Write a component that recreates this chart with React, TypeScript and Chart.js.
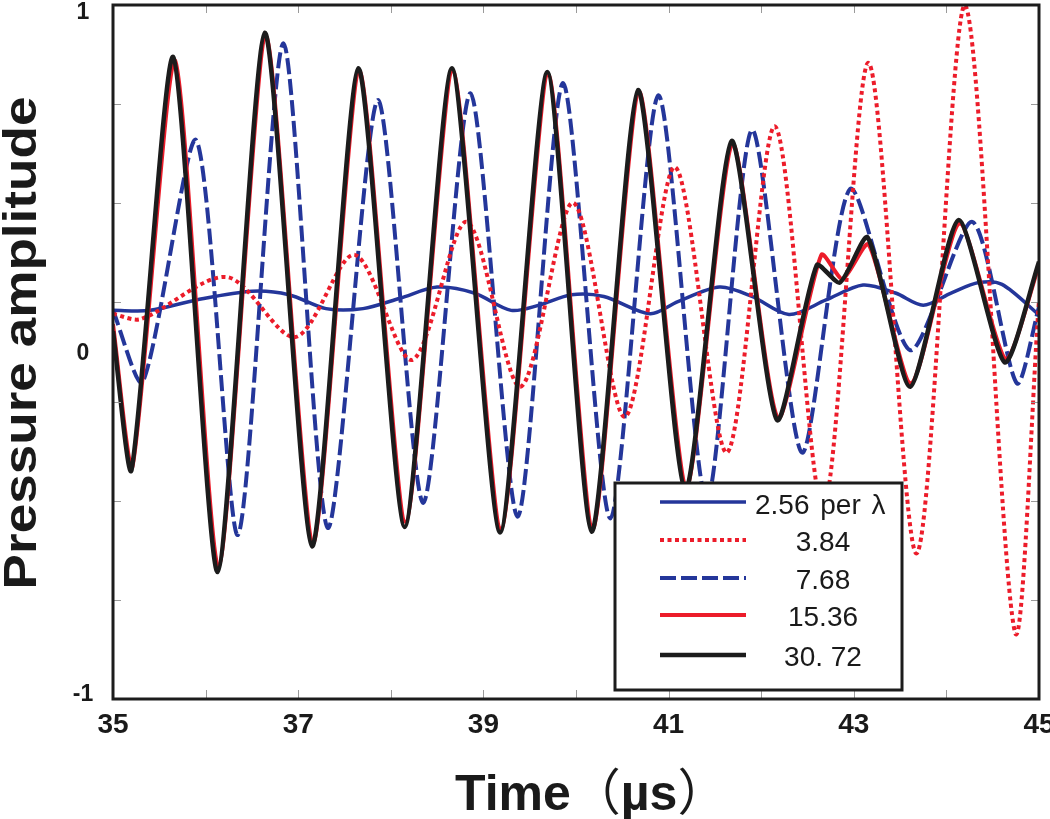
import React, { useEffect, useRef } from 'react';
import { Chart, registerables } from 'chart.js';

Chart.register(...registerables);

// ---------- data ----------
const seriesNames = ['2.56 per λ', '3.84', '7.68', '15.36', '30. 72'];

const xTickValues = [35, 36, 37, 38, 39, 40, 41, 42, 43, 44, 45];
const xTickLabels = ['35', '', '37', '', '39', '', '41', '', '43', '', '45'];
const yTickValues = [1, 0, -1];
const yTickLabels = ['1', '0', '-1'];
const yMinorTicks = [0.714, 0.429, 0.143, -0.143, -0.429, -0.714];

const t256 = [35.0, 35.4, 35.9, 36.5, 36.9, 37.3, 37.7, 38.1, 38.5, 38.9, 39.3, 39.6, 39.95, 40.3, 40.8, 41.1, 41.55, 41.9, 42.3, 42.7, 43.1, 43.45, 43.75, 44.05, 44.35, 44.6, 45.0];
const p256 = [0.12, 0.12, 0.15, 0.175, 0.165, 0.125, 0.125, 0.155, 0.187, 0.17, 0.12, 0.135, 0.165, 0.16, 0.11, 0.145, 0.187, 0.16, 0.108, 0.15, 0.193, 0.17, 0.135, 0.17, 0.2, 0.195, 0.107];

const t384 = [35.0, 35.3, 36.23, 36.97, 37.61, 38.23, 38.82, 39.4, 39.97, 40.53, 41.07, 41.63, 42.15, 42.67, 43.16, 43.68, 44.2, 44.74, 45.0];
const p384 = [0.11, 0.095, 0.216, 0.043, 0.28, -0.023, 0.375, -0.1, 0.43, -0.187, 0.533, -0.29, 0.65, -0.45, 0.833, -0.58, 1.0, -0.807, 0.15];

const t768 = [35.0, 35.32, 35.9, 36.35, 36.84, 37.32, 37.86, 38.35, 38.86, 39.37, 39.86, 40.37, 40.89, 41.41, 41.9, 42.44, 42.96, 43.61, 44.28, 44.76, 45.0];
const p768 = [0.12, -0.087, 0.61, -0.527, 0.89, -0.507, 0.726, -0.435, 0.746, -0.475, 0.775, -0.48, 0.74, -0.43, 0.64, -0.29, 0.47, 0.005, 0.375, -0.09, 0.13];

const t1536 = [35.0, 35.21, 35.67, 36.14, 36.65, 37.16, 37.66, 38.16, 38.67, 39.19, 39.7, 40.18, 40.68, 41.19, 41.69, 42.18, 42.65, 42.88, 43.16, 43.62, 44.14, 44.64, 45.0];
const p1536 = [0.08, -0.33, 0.84, -0.62, 0.91, -0.55, 0.81, -0.49, 0.81, -0.51, 0.8, -0.51, 0.75, -0.39, 0.6, -0.19, 0.28, 0.21, 0.31, -0.09, 0.37, -0.02, 0.25];

const t3072 = [35.0, 35.2, 35.65, 36.13, 36.64, 37.15, 37.65, 38.15, 38.66, 39.18, 39.69, 40.17, 40.67, 41.18, 41.68, 42.17, 42.6, 42.85, 43.15, 43.61, 44.13, 44.63, 45.0];
const p3072 = [0.06, -0.34, 0.85, -0.634, 0.92, -0.56, 0.818, -0.504, 0.818, -0.52, 0.807, -0.518, 0.755, -0.4, 0.608, -0.196, 0.25, 0.2, 0.33, -0.1, 0.38, -0.03, 0.26];

// ---------- styles ----------
const BLUE = '#24369a';
const RED = '#ec1c2a';
const BLACK = '#1c1c1c';
const TEXT = '#1a1a1a';
const FONT = '"Liberation Sans", Arial, sans-serif';

const styles = [
  { color: BLUE, width: 3.5, dash: [] as number[], tension: 0.3 },
  { color: RED, width: 4, dash: [4, 3.5], tension: 0.3 },
  { color: BLUE, width: 4, dash: [16, 5], tension: 0.25 },
  { color: RED, width: 4, dash: [] as number[], tension: 0.22 },
  { color: BLACK, width: 4.5, dash: [] as number[], tension: 0.22 },
];
const drawOrder = [4, 2, 3, 1, 0];

const toPts = (t: number[], p: number[]) => t.map((x, i) => ({ x, y: p[i] }));

const framePlugin = {
  id: 'frameAndLegend',
  afterDatasetsDraw(chart: any) {
    const { ctx, chartArea } = chart;
    const { left, right, top, bottom } = chartArea;
    const xs = chart.scales.x;
    const ys = chart.scales.y;
    ctx.save();
    // inward tick marks
    ctx.strokeStyle = '#9a9a9a';
    ctx.lineWidth = 1;
    ctx.setLineDash([]);
    xTickValues.forEach((v) => {
      const px = Math.round(xs.getPixelForValue(v)) + 0.5;
      ctx.beginPath();
      ctx.moveTo(px, bottom);
      ctx.lineTo(px, bottom - 9);
      ctx.moveTo(px, top);
      ctx.lineTo(px, top + 8);
      ctx.stroke();
    });
    yMinorTicks.forEach((v) => {
      const py = Math.round(ys.getPixelForValue(v)) + 0.5;
      ctx.beginPath();
      ctx.moveTo(left, py);
      ctx.lineTo(left + 8, py);
      ctx.moveTo(right, py);
      ctx.lineTo(right - 8, py);
      ctx.stroke();
    });
    // frame
    ctx.strokeStyle = BLACK;
    ctx.lineWidth = 3;
    ctx.strokeRect(left, top, right - left, bottom - top);

    // y tick labels
    ctx.fillStyle = TEXT;
    ctx.font = `bold 23px ${FONT}`;
    ctx.textAlign = 'center';
    ctx.textBaseline = 'middle';
    yTickValues.forEach((v, i) => {
      let py = ys.getPixelForValue(v);
      py = Math.max(top + 8, Math.min(bottom - 4, py + 2));
      ctx.fillText(yTickLabels[i], left - 30, py);
    });

    // legend
    const lx0 = 615, ly0 = 483, lx1 = 902, ly1 = 690;
    ctx.fillStyle = '#ffffff';
    ctx.fillRect(lx0, ly0, lx1 - lx0, ly1 - ly0);
    ctx.strokeStyle = BLACK;
    ctx.lineWidth = 3;
    ctx.strokeRect(lx0, ly0, lx1 - lx0, ly1 - ly0);
    const rowsY = [502, 540, 578, 615, 655];
    seriesNames.forEach((name, i) => {
      const st = styles[i];
      ctx.strokeStyle = st.color;
      ctx.lineWidth = st.width;
      ctx.setLineDash(st.dash);
      ctx.beginPath();
      ctx.moveTo(660, rowsY[i]);
      ctx.lineTo(746, rowsY[i]);
      ctx.stroke();
      ctx.setLineDash([]);
      ctx.fillStyle = TEXT;
      ctx.font = `28px ${FONT}`;
      ctx.textBaseline = 'middle';
      if (i === 0) {
        ctx.textAlign = 'left';
        (ctx as any).wordSpacing = '3px';
        ctx.fillText(name, 755, rowsY[i] + 4);
        (ctx as any).wordSpacing = '0px';
      } else {
        ctx.textAlign = 'center';
        ctx.fillText(name, 823, rowsY[i] + 3);
      }
    });

    // y title (stretched along text direction)
    ctx.save();
    ctx.translate(36, 343);
    ctx.rotate(-Math.PI / 2);
    ctx.scale(1.13, 1);
    ctx.fillStyle = TEXT;
    ctx.font = `bold 47px ${FONT}`;
    ctx.textAlign = 'center';
    ctx.textBaseline = 'alphabetic';
    ctx.fillText('Pressure amplitude', 0, 0);
    ctx.restore();

    // x title
    const parts = [
      { s: 'Time', f: `bold 50px ${FONT}` },
      { s: '（', f: `50px "Noto Sans CJK SC", sans-serif` },
      { s: 'µs', f: `bold 50px ${FONT}` },
      { s: '）', f: `50px "Noto Sans CJK SC", sans-serif` },
    ];
    let cx = 455;
    ctx.fillStyle = TEXT;
    ctx.textAlign = 'left';
    ctx.textBaseline = 'alphabetic';
    parts.forEach((p) => {
      ctx.font = p.f;
      ctx.fillText(p.s, cx, 810);
      cx += ctx.measureText(p.s).width;
    });
    ctx.restore();
  },
};

export default function App() {
  const ref = useRef<HTMLCanvasElement | null>(null);
  useEffect(() => {
    document.body.style.margin = '0';
    const canvas = ref.current;
    if (!canvas) return;
    const sets = [
      { t: t256, p: p256 },
      { t: t384, p: p384 },
      { t: t768, p: p768 },
      { t: t1536, p: p1536 },
      { t: t3072, p: p3072 },
    ];
    const chart = new Chart(canvas, {
      type: 'line',
      data: {
        datasets: sets.map((s, i) => ({
          label: seriesNames[i],
          data: toPts(s.t, s.p),
          borderColor: styles[i].color,
          borderWidth: styles[i].width,
          borderDash: styles[i].dash,
          borderJoinStyle: 'round' as const,
          pointRadius: 0,
          fill: false,
          tension: styles[i].tension,
          order: drawOrder[i],
        })),
      },
      options: {
        animation: false,
        responsive: false,
        devicePixelRatio: 1,
        parsing: false as any,
        layout: { padding: { top: 5, right: 11, left: 0, bottom: 0 } },
        plugins: { legend: { display: false }, tooltip: { enabled: false } },
        scales: {
          x: {
            type: 'linear',
            min: 35,
            max: 45,
            afterFit: (s: any) => {
              s.height = 120;
              s.paddingLeft = 0;
              s.paddingRight = 0;
            },
            afterBuildTicks: (s: any) => {
              s.ticks = xTickValues.map((v) => ({ value: v }));
            },
            grid: { display: false, drawTicks: false },
            border: { display: false },
            ticks: {
              autoSkip: false,
              maxRotation: 0,
              padding: 9,
              color: TEXT,
              font: { family: FONT, size: 28, weight: 'bold' },
              callback: (v: any) => {
                const i = xTickValues.indexOf(Number(v));
                return i >= 0 ? xTickLabels[i] : '';
              },
            },
          },
          y: {
            type: 'linear',
            min: -1,
            max: 1,
            afterFit: (s: any) => {
              s.width = 113;
              s.paddingTop = 0;
              s.paddingBottom = 0;
            },
            grid: { display: false, drawTicks: false },
            border: { display: false },
            ticks: { display: false },
          },
        },
      },
      plugins: [framePlugin],
    } as any);
    return () => chart.destroy();
  }, []);
  return (
    <div style={{ width: 1050, height: 819, position: 'relative', background: '#fff' }}>
      <canvas ref={ref} width={1050} height={819} style={{ display: 'block' }} />
    </div>
  );
}
